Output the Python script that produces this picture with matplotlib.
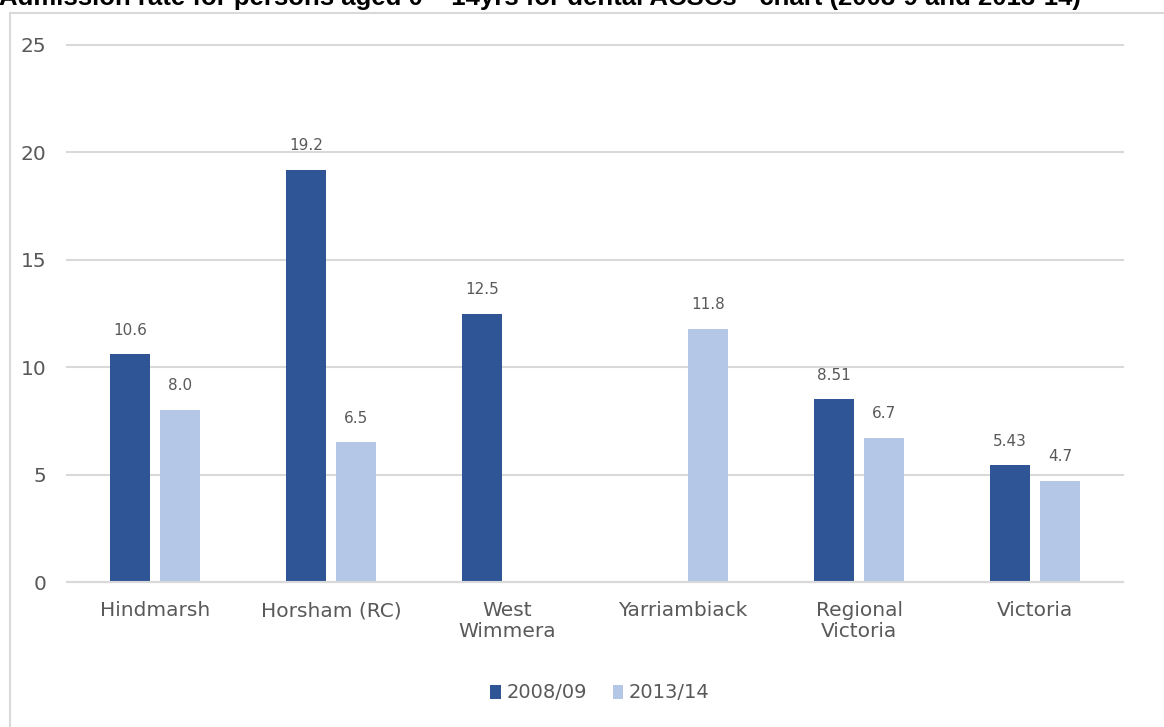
import numpy as np
import matplotlib.pyplot as plt
from matplotlib.patches import Rectangle

#---------/Data/------------------------------#

categories = ["Hindmarsh", "Horsham (RC)", "West\nWimmera", "Yarriambiack",
              "Regional\nVictoria", "Victoria"]
rate_0809 = [10.6, 19.2, 12.5, np.nan, 8.51, 5.43]
rate_1314 = [8.0, 6.5, np.nan, 11.8, 6.7, 4.7]
labels_0809 = ["10.6", "19.2", "12.5", "", "8.51", "5.43"]
labels_1314 = ["8.0", "6.5", "", "11.8", "6.7", "4.7"]
series_names = ["2008/09", "2013/14"]
yticks = [0, 5, 10, 15, 20, 25]

title = "Admission rate for persons aged 0 \u2013 14yrs for dental ACSCs - chart (2008-9 and 2013-14)"

#---------/Style/------------------------------#

dark = "#2F5597"
light = "#B4C7E7"
grid_col = "#D9D9D9"
text_col = "#595959"
plt.rcParams['font.family'] = ['DejaVu Sans']

W, H = 1164, 727
fig = plt.figure(figsize=(W / 100, H / 100), dpi=100)

#Outer chart border (cut off on the right and bottom)
fig.patches.append(Rectangle((10 / W, -0.1), 1.2, 1 - 13 / H + 0.1,
                             transform=fig.transFigure, fill=False,
                             edgecolor=grid_col, lw=1.5))

#Clipped title at the very top
fig.text(-1 / W, 1 - 5 / H, title, fontsize=18.5, fontweight='bold',
         family='Liberation Sans', va='baseline', ha='left', color='black')

ax = fig.add_axes([67 / W, 1 - 582 / H, (1123 - 67) / W, (582 - 45) / H])

x = np.arange(len(categories))
w = 0.222
off = 0.142
b1 = ax.bar(x - off, rate_0809, w, color=dark, label=series_names[0])
b2 = ax.bar(x + off, rate_1314, w, color=light, label=series_names[1])

#Data labels
for xs, vals, labs in [(x - off, rate_0809, labels_0809), (x + off, rate_1314, labels_1314)]:
    for xi, v, lab in zip(xs, vals, labs):
        if np.isnan(v):
            continue
        ax.annotate(lab, xy=(xi, v), xytext=(0, 12), textcoords='offset points',
                    ha='center', va='bottom', fontsize=11, color=text_col)

ax.set_xlim(-0.5, len(categories) - 0.5)
ax.set_ylim(0, 25)
ax.set_yticks(yticks)
ax.set_xticks(x)
ax.set_xticklabels(categories, fontsize=14.5, color=text_col, linespacing=1.1)
ax.tick_params(axis='y', labelsize=14.5, labelcolor=text_col, length=0, pad=15)
ax.tick_params(axis='x', length=0, pad=14)
ax.yaxis.grid(True, color=grid_col, lw=1.5)
for gl in ax.get_ygridlines():
    gl.set_clip_on(False)
ax.set_axisbelow(True)
for s in ['top', 'right', 'left']:
    ax.spines[s].set_visible(False)
ax.spines['bottom'].set_color(grid_col)
ax.spines['bottom'].set_linewidth(1.5)

#Legend
fig.legend(handles=[b1, b2], labels=series_names, loc='center',
           bbox_to_anchor=(600 / W, 1 - 693 / H), ncol=2, frameon=False,
           fontsize=14, handlelength=0.55, handleheight=0.75,
           handletextpad=0.3, columnspacing=1.3, labelcolor=text_col)

fig.savefig("out.png", dpi=100)
